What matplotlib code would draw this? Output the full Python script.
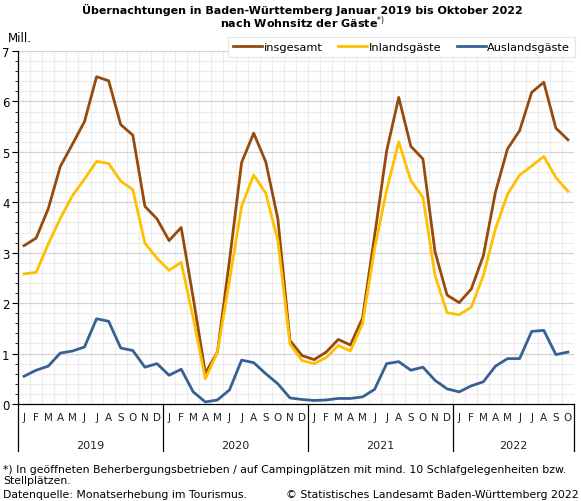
import numpy as np
import matplotlib.pyplot as plt
from matplotlib.transforms import blended_transform_factory

# Übernachtungen in Mill., Januar 2019 bis Oktober 2022
jahre = ["2019", "2020", "2021", "2022"]
monate = ["J", "F", "M", "A", "M", "J", "J", "A", "S", "O", "N", "D"]

insgesamt = [3.14, 3.29, 3.87, 4.71, 5.15, 5.60, 6.49, 6.41, 5.54, 5.33, 3.92, 3.67,
             3.24, 3.50, 2.10, 0.61, 1.03, 2.85, 4.79, 5.37, 4.80, 3.67, 1.26, 0.96,
             0.88, 1.03, 1.28, 1.17, 1.70, 3.33, 5.02, 6.08, 5.11, 4.86, 3.02, 2.16,
             2.01, 2.28, 2.94, 4.20, 5.06, 5.42, 6.18, 6.38, 5.47, 5.24]
inland = [2.58, 2.61, 3.17, 3.68, 4.13, 4.46, 4.81, 4.77, 4.42, 4.25, 3.19, 2.89,
          2.65, 2.81, 1.70, 0.50, 1.03, 2.45, 3.92, 4.54, 4.18, 3.24, 1.19, 0.86,
          0.80, 0.92, 1.16, 1.05, 1.59, 3.08, 4.24, 5.20, 4.43, 4.10, 2.55, 1.81,
          1.77, 1.92, 2.55, 3.47, 4.16, 4.54, 4.72, 4.91, 4.49, 4.22]
ausland = [0.55, 0.67, 0.75, 1.01, 1.05, 1.13, 1.69, 1.64, 1.11, 1.06, 0.73, 0.80,
           0.57, 0.69, 0.24, 0.04, 0.08, 0.28, 0.87, 0.82, 0.60, 0.40, 0.12, 0.09,
           0.07, 0.08, 0.11, 0.11, 0.14, 0.29, 0.80, 0.84, 0.67, 0.73, 0.47, 0.30,
           0.24, 0.36, 0.44, 0.75, 0.90, 0.90, 1.44, 1.46, 0.98, 1.03]

n = len(insgesamt)
x = np.arange(n)

plt.rcParams['font.family'] = ['DejaVu Sans']
fig = plt.figure(figsize=(5.81, 5.02), dpi=100)
ax = fig.add_axes([18/581, 97/502, 556/581, 353/502])

# Gitter
for k in np.arange(-0.5, n, 1.0)[1:]:
    ax.axvline(k, color='#ececec', lw=0.8, zorder=0)
for v in np.arange(0.2, 7.01, 0.2):
    if abs(v - round(v)) < 1e-6:
        ax.axhline(v, color='#d4d4d4', lw=0.9, zorder=0)
    else:
        ax.axhline(v, color='#ececec', lw=0.8, zorder=0)

lw = 2.0
ax.plot(x, insgesamt, color='#964B0C', lw=lw, label='insgesamt', zorder=3)
ax.plot(x, inland, color='#FFC000', lw=lw, label='Inlandsgäste', zorder=3)
ax.plot(x, ausland, color='#386094', lw=lw, label='Auslandsgäste', zorder=3)

ax.set_xlim(-0.5, n - 0.5)
ax.set_ylim(0, 7)
ax.set_yticks(range(8))
ax.set_yticks(np.arange(0, 7.01, 0.2), minor=True)
ax.tick_params(axis='y', which='major', length=4, width=0.8, labelsize=8.5, pad=2)
ax.tick_params(axis='y', which='minor', length=2, width=0.6)
ax.set_xticks([])
for s in ['top', 'right']:
    ax.spines[s].set_visible(False)
ax.spines['left'].set_linewidth(0.9)
ax.spines['bottom'].set_linewidth(0.9)

# Monats- und Jahresbeschriftung
tr = blended_transform_factory(ax.transData, ax.transAxes)
for i in range(n):
    ax.text(i, -0.038, monate[i % 12], transform=tr, ha='center', va='center',
            fontsize=7.5, color='#222222')
for j, jahr in enumerate(jahre):
    start = j * 12 - 0.5
    ende = min((j + 1) * 12, n) - 0.5
    ax.text((start + ende) / 2, -0.117, jahr, transform=tr, ha='center', va='center',
            fontsize=8, color='#222222')
    ax.plot([start, start], [0, -0.133], transform=tr, color='black', lw=0.9, clip_on=False)
ax.plot([n - 0.5, n - 0.5], [0, -0.133], transform=tr, color='black', lw=0.9, clip_on=False)

# Titel
fig.text(0.52, 1 - 10/502, 'Übernachtungen in Baden-Württemberg Januar 2019 bis Oktober 2022',
         ha='center', va='center', fontsize=8, fontweight='bold')
fig.text(0.52, 1 - 23/502, 'nach Wohnsitz der Gäste$^{*)}$',
         ha='center', va='center', fontsize=8, fontweight='bold')
fig.text(8/581, 1 - 39/502, 'Mill.', ha='left', va='center', fontsize=8.5)

leg = fig.legend(loc='center right', bbox_to_anchor=(1.0, 1 - 48/502), ncol=3,
                 fontsize=8.2, frameon=True, fancybox=False, handlelength=2.5,
                 handletextpad=0.15, columnspacing=1.4, borderpad=0.45)
leg.get_frame().set_edgecolor('#e6e6e6')
leg.get_frame().set_linewidth(0.8)
leg.get_frame().set_facecolor('white')
leg.get_frame().set_alpha(1)

# Fußnoten
fig.text(3/581, 1 - 470/502,
         '*) In geöffneten Beherbergungsbetrieben / auf Campingplätzen mit mind. 10 Schlafgelegenheiten bzw.',
         ha='left', va='center', fontsize=7.8)
fig.text(3/581, 1 - 481/502, 'Stellplätzen.', ha='left', va='center', fontsize=7.8)
fig.text(3/581, 1 - 495/502, 'Datenquelle: Monatserhebung im Tourismus.', ha='left', va='center', fontsize=7.8)
fig.text(579/581, 1 - 495/502, '© Statistisches Landesamt Baden-Württemberg 2022',
         ha='right', va='center', fontsize=7.8)

fig.savefig('out.png', dpi=100)
